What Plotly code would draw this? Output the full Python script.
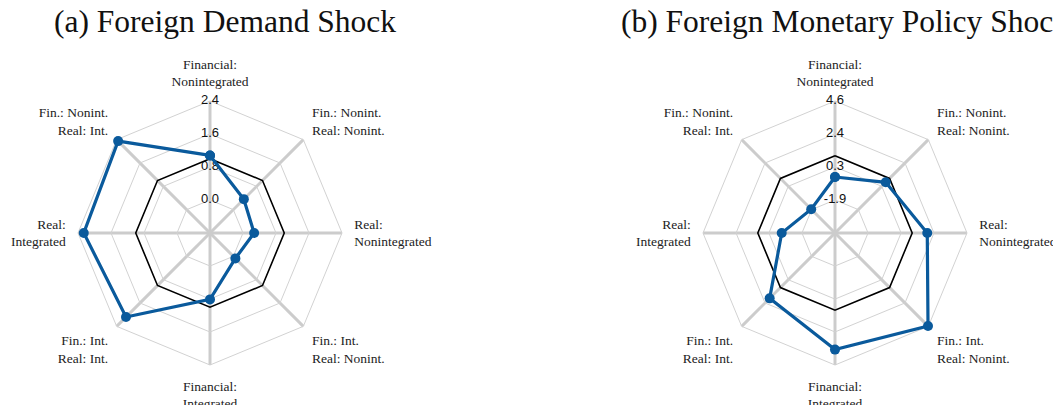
import plotly.graph_objects as go

# categories, clockwise from the top
categories = [
    "Financial:<br>Nonintegrated",
    "Fin.: Nonint.<br>Real: Nonint.",
    "Real:<br>Nonintegrated",
    "Fin.: Int.<br>Real: Nonint.",
    "Financial:<br>Integrated",
    "Fin.: Int.<br>Real: Int.",
    "Real:<br>Integrated",
    "Fin.: Nonint.<br>Real: Int.",
]

# (a) foreign demand shock
demand_vals = [1.08, 0.36, 0.27, 0.07, 0.81, 2.08, 2.26, 2.35]
demand_ticks = [-0.8, 0.0, 0.8, 1.6, 2.4]
demand_labels = ["", "0.0", "0.8", "1.6", "2.4"]

# (b) foreign monetary policy shock
monpol_vals = [-0.39, 0.64, 1.99, 4.57, 3.59, 2.0, -0.57, -1.86]
monpol_ticks = [-4.07, -1.9, 0.27, 2.43, 4.6]
monpol_labels = ["", "-1.9", "0.3", "2.4", "4.6"]

benchmark = [1.0] * len(categories)

titles = ["(a) Foreign Demand Shock", "(b) Foreign Monetary Policy Shock"]

blue = "#0a5a9c"
grid = "#d2d2d2"
spoke = "#cccccc"
serif = "Liberation Serif, DejaVu Serif, serif"

W, H = 1061, 405
R = 132          # px radius of the outer octagon
PAD = 9          # extra px for the transparent data layer so markers are not clipped
OFF = 8          # page body margin
centres = [(210 - OFF, 233 - OFF), (835 - OFF, 233 - OFF)]
title_x = [225 - OFF, 845 - OFF]


def closed(v):
    return list(v) + [v[0]]


def dom(cx, cy, rad):
    return dict(x=[(cx - rad) / W, (cx + rad) / W],
                y=[(H - cy - rad) / H, (H - cy + rad) / H])


fig = go.Figure()

panels = [
    ("polar", "polar3", demand_vals, demand_ticks, demand_labels),
    ("polar2", "polar4", monpol_vals, monpol_ticks, monpol_labels),
]

angular_common = dict(type="category", categoryorder="array", categoryarray=categories,
                      direction="clockwise", rotation=90)

for i, (gsub, dsub, vals, ticks, labels) in enumerate(panels):
    cx, cy = centres[i]
    lo, hi = ticks[0], ticks[-1]
    hi_data = lo + (hi - lo) * (R + PAD) / R

    # grid layer
    fig.update_layout({gsub: dict(
        domain=dom(cx, cy, R),
        gridshape="linear",
        bgcolor="white",
        radialaxis=dict(range=[lo, hi], tickvals=ticks, showticklabels=False,
                        ticks="", showline=False, gridcolor=grid, gridwidth=1),
        angularaxis=dict(**angular_common, ticks="outside", ticklen=9,
                         tickcolor="rgba(0,0,0,0)", showline=True,
                         linecolor=grid, linewidth=1, gridcolor=spoke, gridwidth=2.6,
                         tickfont=dict(family=serif, size=13.5, color="#222")),
    )})
    # dummy trace so the grid subplot gets drawn
    fig.add_trace(go.Scatterpolar(r=[lo], theta=[categories[0]], mode="markers",
                                  marker=dict(opacity=0), subplot=gsub,
                                  showlegend=False, hoverinfo="skip"))

    # transparent data layer on the same scale
    fig.update_layout({dsub: dict(
        domain=dom(cx, cy, R + PAD),
        gridshape="linear",
        bgcolor="rgba(0,0,0,0)",
        radialaxis=dict(range=[lo, hi_data], visible=False, showgrid=False,
                        showline=False, showticklabels=False, ticks=""),
        angularaxis=dict(**angular_common, showgrid=False, showline=False,
                         showticklabels=False, ticks=""),
    )})

    # radial tick labels along the top spoke
    fig.add_trace(go.Scatterpolar(
        r=ticks, theta=[categories[0]] * len(ticks), mode="text",
        text=labels, textposition="middle center", cliponaxis=True,
        textfont=dict(family="Liberation Sans, Arial, sans-serif", size=13, color="#111"),
        subplot=dsub, showlegend=False, hoverinfo="skip",
    ))
    fig.add_trace(go.Scatterpolar(
        r=closed(benchmark), theta=closed(categories), mode="lines", cliponaxis=True,
        line=dict(color="black", width=1.6), subplot=dsub, showlegend=False,
    ))
    fig.add_trace(go.Scatterpolar(
        r=closed(vals), theta=closed(categories), mode="lines+markers", cliponaxis=True,
        line=dict(color=blue, width=3.2), marker=dict(color=blue, size=10),
        subplot=dsub, showlegend=False,
    ))

    fig.add_annotation(text=titles[i], x=title_x[i] / W, y=1 - (22 - OFF) / H,
                       xref="paper", yref="paper", xanchor="center", yanchor="middle",
                       showarrow=False, font=dict(family=serif, size=31.5, color="#111"))

fig.update_layout(
    width=W, height=H,
    margin=dict(l=0, r=0, t=0, b=0),
    paper_bgcolor="white",
    plot_bgcolor="white",
)

fig.write_html("out.html")
